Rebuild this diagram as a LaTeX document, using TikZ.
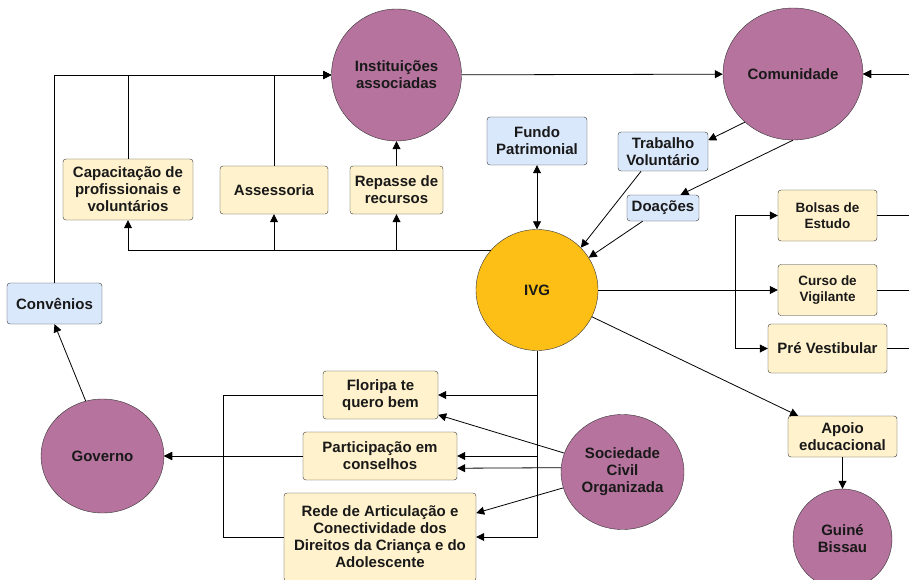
\documentclass[tikz,border=0pt]{standalone}
\usepackage{fontspec}
\setmainfont{Liberation Sans}
\usetikzlibrary{shapes.geometric}
\usetikzlibrary{arrows.meta}
\definecolor{roxo}{RGB}{181,115,157}
\definecolor{ouro}{RGB}{253,190,21}
\definecolor{creme}{RGB}{255,242,204}
\definecolor{azul}{RGB}{218,232,252}
\tikzset{
  ator/.style={ellipse, draw=black!80, fill=roxo, inner sep=0pt, align=center, text=black!90, font=\bfseries\fontsize{15}{17}\selectfont},
  acao/.style={rectangle, rounded corners=3pt, draw=black!80, fill=creme, inner sep=0pt, align=center, text=black!90, font=\bfseries\fontsize{15}{17}\selectfont},
  recurso/.style={acao, fill=azul},
  miuda/.style={font=\bfseries\fontsize{13.5}{16}\selectfont},
  seta/.style={->, >={Triangle[length=8pt,width=8pt]}, line width=0.8pt}
}
\begin{document}
\begin{tikzpicture}[x=1pt, y=-1pt]
\useasboundingbox (0,0) rectangle (909,580);
\node[ator, minimum width=130, minimum height=132] (inst) at (396.5,75) {Instituições\\associadas};
\node[ator, minimum width=140, minimum height=132] (com) at (793,74) {Comunidade};
\node[ator, fill=ouro, minimum width=122, minimum height=121] (ivg) at (537,290) {IVG};
\node[ator, minimum width=123, minimum height=114] (gov) at (102.5,456) {Governo};
\node[ator, minimum width=123, minimum height=115] (soc) at (622.5,472) {Sociedade\\Civil\\Organizada};
\node[ator, minimum width=99, minimum height=100] (gui) at (842.5,539) {Guiné\\Bissau};
\node[acao, minimum width=130, minimum height=61] (cap) at (128,189.5) {Capacitação de\\profissionais e\\voluntários};
\node[acao, minimum width=108, minimum height=48] (ass) at (274,190) {Assessoria};
\node[acao, minimum width=93, minimum height=48] (rep) at (396.5,190) {Repasse de\\recursos};
\node[recurso, minimum width=100, minimum height=48] (fun) at (537,141) {Fundo\\Patrimonial};
\node[recurso, minimum width=90, minimum height=39] (tra) at (663,151.5) {Trabalho\\Voluntário};
\node[recurso, minimum width=72, minimum height=26] (doa) at (663,208) {Doações};
\node[acao, miuda, minimum width=99, minimum height=51] (bol) at (827.5,215.5) {Bolsas de\\Estudo};
\node[acao, miuda, minimum width=99, minimum height=51] (cur) at (827.5,290) {Curso de\\Vigilante};
\node[acao, minimum width=119, minimum height=49] (pre) at (827.5,348.5) {Pré Vestibular};
\node[recurso, minimum width=95, minimum height=41] (con) at (54.5,303.5) {Convênios};
\node[acao, minimum width=115, minimum height=48] (flo) at (380.5,395) {Floripa te\\quero bem};
\node[acao, minimum width=154, minimum height=48] (par) at (380,456) {Participação em\\conselhos};
\node[acao, minimum width=192, minimum height=88] (red) at (380,537) {Rede de Articulação e\\Conectividade dos\\Direitos da Criança e do\\Adolescente};
\node[acao, minimum width=109, minimum height=41] (apo) at (842.5,436.5) {Apoio\\educacional};
\coordinate (jn) at (735,290);
\coordinate (gj) at (223,456);
\coordinate (rside) at (935,74);
\draw[seta] (con) |- (inst);
\draw[seta] (cap) |- (inst);
\draw[seta] (ass) |- (inst);
\draw[seta] (rep) -- (inst);
\draw[seta] (ivg.139) -| (cap);
\draw[seta] (ivg.139) -| (ass);
\draw[seta] (ivg.139) -| (rep);
\draw[seta] (inst) -- (com);
\draw[seta] (bol) -| (rside) -- (com);
\draw[seta] (cur) -| (rside) -- (com);
\draw[seta] (pre) -| (rside) -- (com);
\draw[seta] (com.225) -- (tra.14);
\draw[seta] (com.south) -- (doa.37);
\draw[seta] (tra.222) -- (ivg.44);
\draw[seta] (doa.213) -- (ivg.32);
\draw[seta, <->] (fun) -- (ivg);
\draw[seta] (ivg) -- (cur);
\draw[seta] (ivg) -- (jn) |- (bol);
\draw[seta] (ivg) -- (jn) |- (pre);
\draw[seta] (ivg.-26) -- (apo.155);
\draw[seta] (apo) -- (gui);
\draw[seta] (gov.107) -- (con.south);
\draw[seta] (par) -- (gov);
\draw[seta] (flo) -| (gj) -- (gov);
\draw[seta] (red) -| (gj) -- (gov);
\draw[seta] (ivg) |- (flo);
\draw[seta] (ivg) |- (par);
\draw[seta] (ivg) |- (red);
\draw[seta] (soc.162) -- (flo.-19);
\draw[seta] (soc.176) -- (par.-9);
\draw[seta] (soc.195) -- (red.14);
\end{tikzpicture}
\end{document}
